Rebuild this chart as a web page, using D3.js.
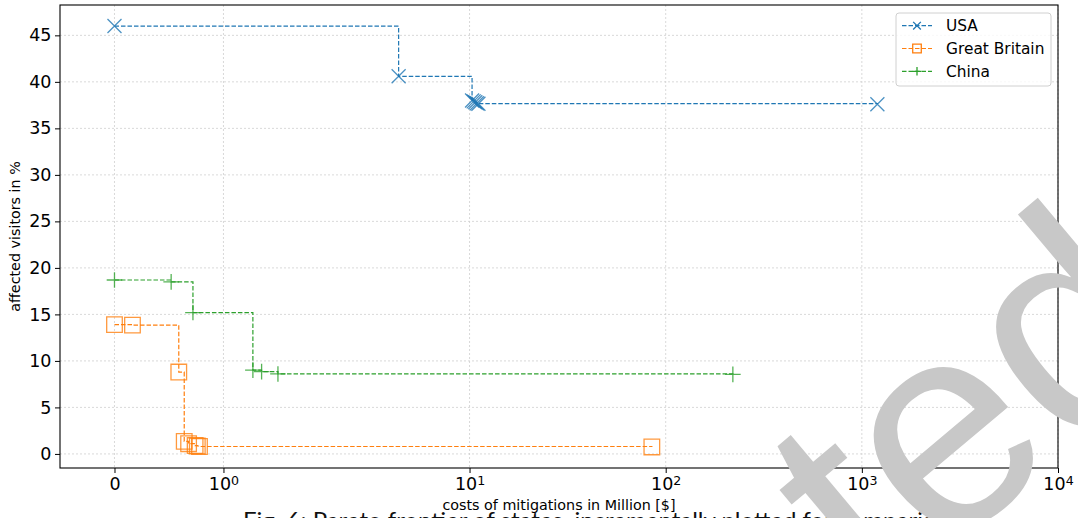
<!DOCTYPE html>
<html>
<head>
<meta charset="utf-8">
<script src="https://cdn.jsdelivr.net/npm/d3@7"></script>
<style>
  body { margin: 0; background: #fff; }
  svg { display: block; font-family: "DejaVu Sans", sans-serif; }
</style>
</head>
<body>
<div id="chart"></div>
<script>
// values (cost in Million $, share of affected visitors in %)
const usaCost = [0, 4.35, 10.3, 10.5, 10.7, 10.9, 11.1, 1200];
const usaVisitors = [46.0, 40.6, 38.0, 37.9, 37.8, 37.7, 37.65, 37.6];
const gbCost = [0, 0.165, 0.59, 0.64, 0.68, 0.74, 0.76, 0.78, 85];
const gbVisitors = [13.9, 13.85, 8.8, 1.35, 1.1, 0.9, 0.85, 0.8, 0.75];
const chinaCost = [0, 0.52, 0.72, 1.27, 1.35, 1.5, 220];
const chinaVisitors = [18.7, 18.5, 15.2, 9.0, 8.85, 8.6, 8.55];

const seriesNames = ["USA", "Great Britain", "China"];
const xTicks = [0, 1, 10, 100, 1000, 10000];
const xTickExp = [null, "0", "1", "2", "3", "4"];
const xLimits = [-0.5, 10000];
const yTicks = [0, 5, 10, 15, 20, 25, 30, 35, 40, 45];

const W = 1078, H = 518;
const plotL = 60, plotR = 1058, plotT = 5, plotB = 468;

// matplotlib-style symlog (base 10, linthresh 2, linscale 1)
const linthresh = 2, linscale = 1 / (1 - 1 / 10);
const symlog = v => Math.abs(v) <= linthresh ? v * linscale
  : Math.sign(v) * linthresh * (linscale + Math.log10(Math.abs(v) / linthresh));

const x = d3.scaleLinear()
  .domain([symlog(xLimits[0]), symlog(xLimits[1])])
  .range([plotL, plotR]);
const xPos = v => x(symlog(v));

const allY = usaVisitors.concat(gbVisitors, chinaVisitors);
const yMin = d3.min(allY), yMax = d3.max(allY);
const yPad = (yMax - yMin) * 0.05;
const y = d3.scaleLinear().domain([yMin - yPad, yMax + yPad]).range([plotB, plotT]);

const series = [
  { name: seriesNames[0], cost: usaCost, vis: usaVisitors, color: "#1f77b4", marker: "x" },
  { name: seriesNames[1], cost: gbCost, vis: gbVisitors, color: "#ff7f0e", marker: "square" },
  { name: seriesNames[2], cost: chinaCost, vis: chinaVisitors, color: "#2ca02c", marker: "plus" }
];

function markerPath(type, h) {
  if (type === "x") return `M${-h},${-h}L${h},${h}M${-h},${h}L${h},${-h}`;
  if (type === "plus") return `M${-h},0L${h},0M0,${-h}L0,${h}`;
  return `M${-h},${-h}H${h}V${h}H${-h}Z`;
}
const markerHalf = { x: 7, square: 7.8, plus: 7.8 };

const svg = d3.select("#chart").append("svg")
  .attr("width", W).attr("height", H);

// caption of the paper underneath (cut off by the image border)
svg.append("text")
  .attr("x", 243).attr("y", 529)
  .attr("font-family", "Lato, sans-serif")
  .attr("font-size", 24)
  .attr("fill", "#111")
  .text("Fig. 6: Pareto frontier of states, incrementally plotted for comparison");

// grid
const grid = svg.append("g")
  .attr("stroke", "#cfcfcf").attr("stroke-width", 0.8).attr("stroke-dasharray", "2,2");
grid.selectAll(".gx").data(xTicks).enter().append("line")
  .attr("x1", d => xPos(d)).attr("x2", d => xPos(d))
  .attr("y1", plotT).attr("y2", plotB);
grid.selectAll(".gy").data(yTicks).enter().append("line")
  .attr("x1", plotL).attr("x2", plotR)
  .attr("y1", d => y(d)).attr("y2", d => y(d));

// series
const line = d3.line()
  .x(d => xPos(d[0]))
  .y(d => y(d[1]))
  .curve(d3.curveStepAfter);

series.forEach(s => {
  const pts = s.cost.map((c, i) => [c, s.vis[i]]);
  svg.append("path")
    .attr("d", line(pts))
    .attr("fill", "none")
    .attr("stroke", s.color)
    .attr("stroke-width", 1.2)
    .attr("stroke-dasharray", "4.5,2");
  svg.append("g").selectAll("path").data(pts).enter().append("path")
    .attr("transform", d => `translate(${xPos(d[0])},${y(d[1])})`)
    .attr("d", markerPath(s.marker, markerHalf[s.marker]))
    .attr("fill", "none")
    .attr("stroke", s.color)
    .attr("stroke-width", 1.3)
    .attr("stroke-opacity", 0.8);
});

// axes
const gx = svg.append("g")
  .attr("transform", `translate(0,${plotB})`)
  .call(d3.axisBottom(x).tickValues(xTicks.map(symlog)).tickSize(5).tickPadding(5).tickFormat(() => ""));
gx.selectAll(".tick text").each(function (d, i) {
  const t = d3.select(this);
  if (xTickExp[i] === null) { t.text("0"); return; }
  t.append("tspan").text("10");
  t.append("tspan").attr("dy", "-0.45em").attr("font-size", "0.72em").text(xTickExp[i]);
});
const gy = svg.append("g")
  .attr("transform", `translate(${plotL},0)`)
  .call(d3.axisLeft(y).tickValues(yTicks).tickSize(5).tickPadding(3.5));
[gx, gy].forEach(g => {
  g.select(".domain").remove();
  g.selectAll(".tick line").attr("stroke", "#000").attr("stroke-width", 1);
  g.selectAll(".tick text")
    .attr("font-family", "DejaVu Sans, sans-serif")
    .attr("font-size", 17.5)
    .attr("fill", "#000");
});

// spines
svg.append("rect")
  .attr("x", plotL).attr("y", plotT)
  .attr("width", plotR - plotL).attr("height", plotB - plotT)
  .attr("fill", "none").attr("stroke", "#000").attr("stroke-width", 1.1);

// axis labels
svg.append("text")
  .attr("x", (plotL + plotR) / 2).attr("y", 510)
  .attr("text-anchor", "middle")
  .attr("font-size", 14.3)
  .text("costs of mitigations in Million [$]");
svg.append("text")
  .attr("transform", `translate(19.5,${(plotT + plotB) / 2}) rotate(-90)`)
  .attr("text-anchor", "middle")
  .attr("font-size", 14.3)
  .text("affected visitors in %");

// legend
const leg = svg.append("g").attr("transform", "translate(896,13)");
leg.append("rect")
  .attr("width", 155).attr("height", 73).attr("rx", 3)
  .attr("fill", "#fff").attr("fill-opacity", 0.8)
  .attr("stroke", "#d0d0d0").attr("stroke-width", 1);
const items = leg.selectAll(".item").data(series).enter().append("g")
  .attr("transform", (d, i) => `translate(0,${12.7 + i * 22.8})`);
items.append("line")
  .attr("x1", 6).attr("x2", 36)
  .attr("stroke", d => d.color).attr("stroke-width", 1.2)
  .attr("stroke-dasharray", "4.5,2");
items.append("path")
  .attr("transform", "translate(21,0)")
  .attr("d", d => markerPath(d.marker, markerHalf[d.marker] * 0.55))
  .attr("fill", "none")
  .attr("stroke", d => d.color).attr("stroke-width", 1.3);
items.append("text")
  .attr("x", 50).attr("dy", "0.36em")
  .attr("font-size", 15.4)
  .text(d => d.name);

// grey watermark over the figure
svg.append("text")
  .attr("transform", "translate(948,452) rotate(-40)")
  .attr("x", -158).attr("dy", "0.26em")
  .attr("font-family", "Liberation Sans, sans-serif")
  .attr("font-size", 295)
  .attr("fill", "#c8c8c8")
  .text("ted");
</script>
</body>
</html>
